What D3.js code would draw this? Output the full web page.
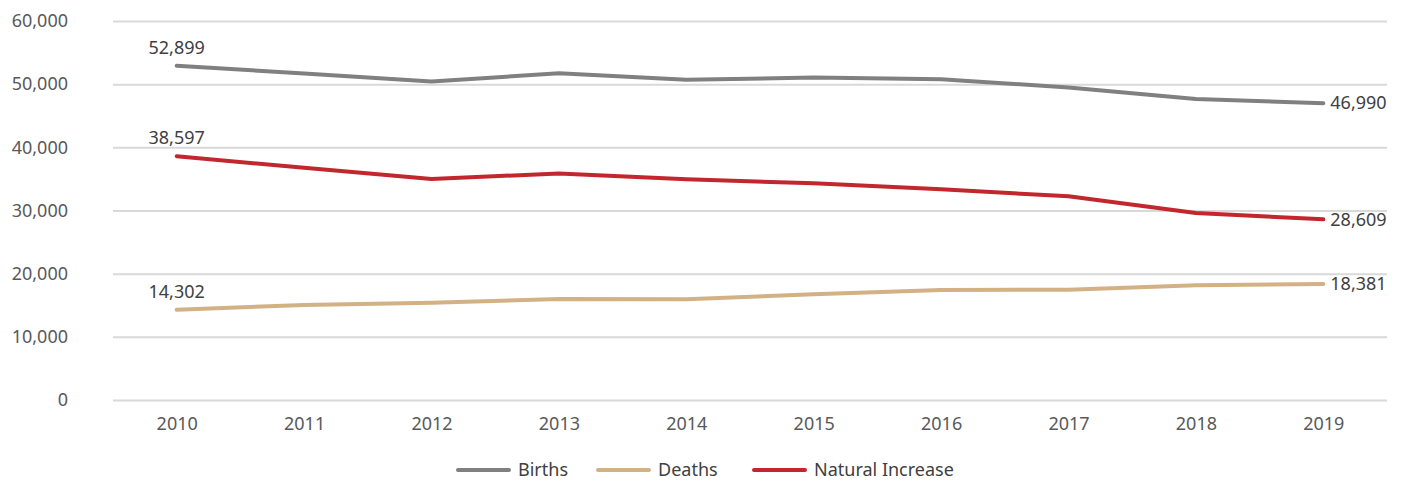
<!DOCTYPE html>
<html lang="en">
<head>
    <meta charset="UTF-8">
    <title>Births, Deaths and Natural Increase</title>
    <style>
        body { margin: 0; background: #fff; }
        svg text { font-family: "Noto Sans", "Open Sans", sans-serif; fill: #404040; }
        .tick text { fill: #595959; }
    </style>
</head>
<body>
    <div id="chart"></div>
    <script src="https://d3js.org/d3.v7.min.js"></script>
    <script>
        const years = ["2010", "2011", "2012", "2013", "2014", "2015", "2016", "2017", "2018", "2019"];
        const births = [52899, 51700, 50420, 51710, 50700, 51050, 50780, 49480, 47650, 46990];
        const deaths = [14302, 15050, 15400, 16000, 15950, 16750, 17420, 17450, 18150, 18381];
        const naturalIncrease = [38597, 36750, 35000, 35850, 34950, 34300, 33350, 32250, 29600, 28609];
        const yTicks = [0, 10000, 20000, 30000, 40000, 50000, 60000];

        const series = [
            {name: "Births", values: births, color: "#808080"},
            {name: "Deaths", values: deaths, color: "#d2b185"},
            {name: "Natural Increase", values: naturalIncrease, color: "#c1272d"}
        ];

        const width = 1403, height = 483;
        const margin = {top: 21, right: 16, bottom: 83, left: 113};

        const svg = d3.select("#chart").append("svg")
            .attr("width", width)
            .attr("height", height);

        const x = d3.scalePoint()
            .domain(years)
            .range([margin.left, width - margin.right])
            .padding(0.5);

        const y = d3.scaleLinear()
            .domain([0, 60000])
            .range([height - margin.bottom, margin.top]);

        const fmt = d3.format(",");

        // gridlines + y labels
        const yAxis = svg.append("g")
            .attr("transform", `translate(${margin.left},0)`)
            .call(d3.axisLeft(y).tickValues(yTicks).tickFormat(fmt)
                .tickSize(-(width - margin.left - margin.right)).tickPadding(45));
        yAxis.select(".domain").remove();
        yAxis.selectAll(".tick line").attr("stroke", "#d9d9d9").attr("stroke-width", 2);
        yAxis.selectAll(".tick text").style("font-size", "18px");

        const xAxis = svg.append("g")
            .attr("transform", `translate(0,${height - margin.bottom})`)
            .call(d3.axisBottom(x).tickSize(0).tickPadding(17));
        xAxis.select(".domain").remove();
        xAxis.selectAll(".tick text").style("font-size", "18px");

        const line = d3.line()
            .x((d, i) => x(years[i]))
            .y(d => y(d));

        svg.append("g")
            .selectAll("path")
            .data(series)
            .join("path")
            .attr("fill", "none")
            .attr("stroke", d => d.color)
            .attr("stroke-width", 4)
            .attr("stroke-linecap", "round")
            .attr("stroke-linejoin", "round")
            .attr("d", d => line(d.values));

        // first-point labels above, last-point labels to the right
        const labels = svg.append("g").style("font-size", "18px");
        series.forEach(s => {
            const first = s.values[0], last = s.values[s.values.length - 1];
            labels.append("text")
                .attr("x", x(years[0]))
                .attr("y", y(first) - 12)
                .attr("text-anchor", "middle")
                .text(fmt(first));
            labels.append("text")
                .attr("x", x(years[years.length - 1]) + 7)
                .attr("y", y(last))
                .attr("dy", "0.35em")
                .text(fmt(last));
        });

        // legend
        const legendX = [458, 598, 754];
        const legend = svg.append("g")
            .selectAll("g")
            .data(series)
            .join("g")
            .attr("transform", (d, i) => `translate(${legendX[i]},470)`);
        legend.append("line")
            .attr("x1", 0).attr("x2", 51)
            .attr("stroke", d => d.color)
            .attr("stroke-width", 4)
            .attr("stroke-linecap", "round");
        legend.append("text")
            .attr("x", 60)
            .attr("dy", "0.35em")
            .style("font-size", "18px")
            .text(d => d.name);
    </script>
</body>
</html>
